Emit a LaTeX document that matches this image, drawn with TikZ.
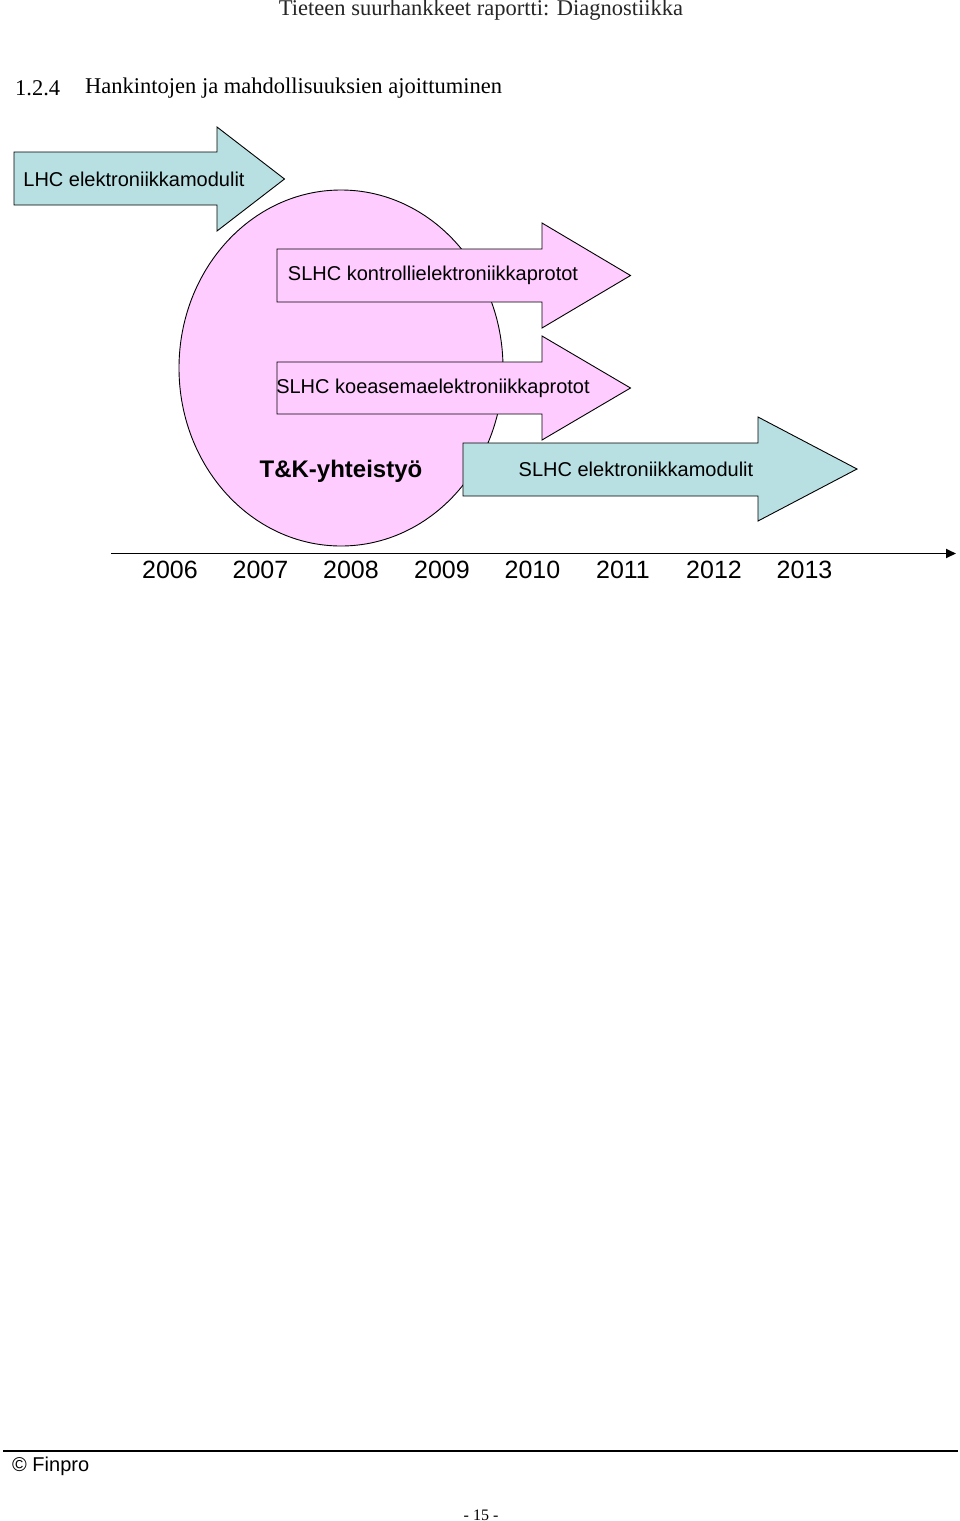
\documentclass[tikz,border=0pt]{standalone}
\usepackage{fontspec}
\setmainfont{Liberation Serif}
\setsansfont{Liberation Sans}
\usetikzlibrary{arrows.meta}
\definecolor{arrowblue}{HTML}{B8E0E2}
\definecolor{arrowpink}{HTML}{FFCCFF}
\tikzset{
  shapeline/.style={draw=black, line width=0.9pt, line join=miter},
  bluearrow/.style={shapeline, fill=arrowblue},
  pinkarrow/.style={shapeline, fill=arrowpink},
  lbl/.style={font=\sffamily\fontsize{20}{24}\selectfont, inner sep=0pt, anchor=center},
  yearlbl/.style={font=\sffamily\fontsize{25}{30}\selectfont, inner sep=0pt, anchor=center},
  serifhead/.style={font=\fontsize{22.5}{26}\selectfont, inner sep=0pt},
}
\begin{document}
\begin{tikzpicture}[x=1pt,y=-1pt]
\useasboundingbox (0,0) rectangle (960,1521);
\fill[white] (0,0) rectangle (960,1521);

% header
\node[serifhead, anchor=center, text=black!85] (hdr) at (481,10) {Tieteen suurhankkeet raportti: Diagnostiikka};
\node[serifhead, anchor=west] (secnum) at (15,88) {1.2.4};
\node[serifhead, anchor=west] (sectitle) at (85,88) {Hankintojen ja mahdollisuuksien ajoittuminen};

% ellipse
\draw[shapeline, fill=arrowpink] (341,368) ellipse [x radius=162, y radius=178];

% LHC arrow
\draw[bluearrow] (14,152) -- (217,152) -- (217,127) -- (284.5,179) -- (217,231) -- (217,205) -- (14,205) -- cycle;
\node[lbl] (lhc) at (134,179) {LHC elektroniikkamodulit};

% SLHC kontrolli arrow
\draw[pinkarrow] (277,249) -- (542,249) -- (542,223) -- (630.5,275.5) -- (542,328) -- (542,302) -- (277,302) -- cycle;
\node[lbl] (kontr) at (433,275.5) {SLHC kontrollielektroniikkaprotot};

% SLHC koeasema arrow
\draw[pinkarrow] (277,362) -- (542,362) -- (542,336) -- (630.5,388) -- (542,440) -- (542,414) -- (277,414) -- cycle;
\node[lbl] (koe) at (433,388) {SLHC koeasemaelektroniikkaprotot};

% SLHC elektroniikkamodulit arrow
\draw[bluearrow] (463,443) -- (758,443) -- (758,417) -- (857,469) -- (758,521) -- (758,496) -- (463,496) -- cycle;
\node[lbl] (slhcmod) at (636,469) {SLHC elektroniikkamodulit};

% T&K label
\node[font=\sffamily\bfseries\fontsize{24}{28}\selectfont, inner sep=0pt] (tk) at (341,471) {T\&K-yhteistyö};

% time axis
\coordinate (axstart) at (111,553.5);
\coordinate (axend) at (956,553.5);
\draw[line width=1.8pt, -{Triangle[length=10pt,width=9pt]}] (axstart) -- (axend);
\foreach \yr/\xx in {2006/170,2007/260.5,2008/351,2009/442,2010/532.5,2011/623,2012/714,2013/804.5}{
  \node[yearlbl] (y\yr) at (\xx,570) {\yr};
}

% footer
\coordinate (fl) at (3,1451);
\coordinate (fr) at (958,1451);
\draw[line width=1.8pt] (fl) -- (fr);
\node[font=\sffamily\fontsize{20}{24}\selectfont, inner sep=0pt, anchor=west] (copy) at (12,1466) {© Finpro};
\node[font=\fontsize{16}{19}\selectfont, inner sep=0pt] (pg) at (481,1515) {- 15 -};
\end{tikzpicture}
\end{document}
